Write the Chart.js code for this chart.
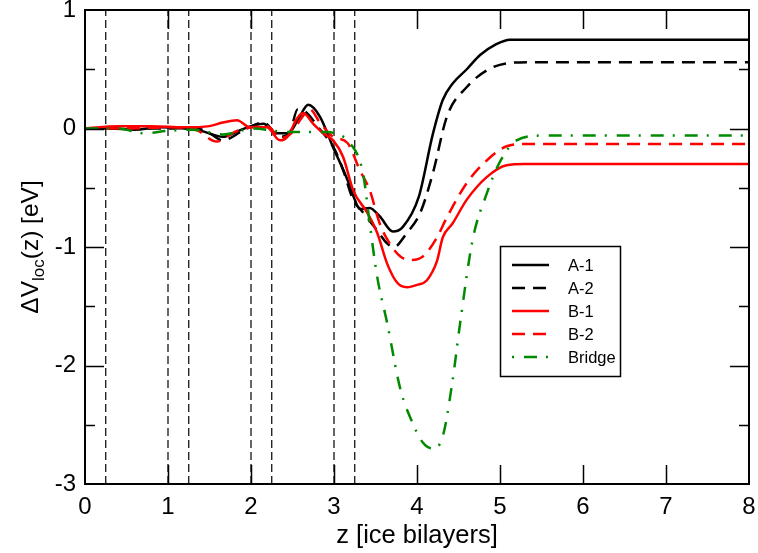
<!DOCTYPE html>
<html>
<head>
<meta charset="utf-8">
<script src="https://cdn.jsdelivr.net/npm/chart.js@4.4.1/dist/chart.umd.min.js"></script>
<style>
  html, body { margin: 0; padding: 0; background: #fff; }
  #pot { display: block; }
</style>
</head>
<body>
<canvas id="pot" width="758" height="553"></canvas>
<script>
// local potential change along z, one curve per adsorption structure
const zA1 = [0, 0.3, 0.6, 0.9, 1.2, 1.4, 1.66, 1.85, 2.0, 2.15, 2.3, 2.45, 2.57, 2.69, 2.83, 2.99, 3.16, 3.25, 3.31, 3.43, 3.55, 3.71, 3.83, 4.02, 4.19, 4.31, 4.43, 4.6, 4.76, 4.95, 5.12, 5.5, 8];
const vA1 = [0, 0, -0.01, 0.01, 0, -0.02, -0.07, -0.02, 0.02, 0.04, -0.04, -0.04, 0.08, 0.2, 0.1, -0.16, -0.43, -0.6, -0.68, -0.67, -0.74, -0.87, -0.83, -0.58, -0.05, 0.24, 0.38, 0.5, 0.62, 0.71, 0.75, 0.75, 0.75];

const zA2 = [0, 0.5, 1.0, 1.3, 1.5, 1.66, 1.9, 2.15, 2.35, 2.47, 2.56, 2.66, 2.8, 3.01, 3.11, 3.23, 3.34, 3.52, 3.64, 3.72, 3.88, 4.04, 4.19, 4.36, 4.6, 4.84, 5.08, 5.4, 8];
const vA2 = [0, 0, 0, 0.01, -0.04, -0.1, -0.02, 0.05, -0.07, -0.03, 0.16, 0.14, 0.02, -0.18, -0.35, -0.6, -0.7, -0.86, -0.97, -1.0, -0.88, -0.71, -0.38, 0.1, 0.35, 0.49, 0.55, 0.56, 0.56];

const zB1 = [0, 0.4, 0.8, 1.2, 1.5, 1.66, 1.83, 1.99, 2.19, 2.35, 2.45, 2.55, 2.63, 2.75, 2.87, 2.99, 3.11, 3.23, 3.4, 3.52, 3.64, 3.76, 3.88, 4.0, 4.12, 4.24, 4.31, 4.43, 4.6, 4.84, 5.08, 5.3, 8];
const vB1 = [0, 0.02, 0.02, 0.01, 0.02, 0.05, 0.07, 0.01, 0.01, -0.1, -0.06, 0.08, 0.13, 0.04, -0.04, -0.1, -0.24, -0.52, -0.71, -0.88, -1.14, -1.3, -1.34, -1.32, -1.28, -1.12, -0.92, -0.8, -0.6, -0.41, -0.31, -0.3, -0.3];

const zB2 = [0, 0.5, 1.0, 1.3, 1.59, 1.8, 2.0, 2.2, 2.35, 2.5, 2.6, 2.71, 2.83, 2.99, 3.16, 3.31, 3.43, 3.55, 3.67, 3.8, 3.92, 4.07, 4.24, 4.36, 4.6, 4.84, 5.08, 5.3, 8];
const vB2 = [0, 0, 0.01, 0, -0.11, -0.03, 0.01, 0.02, -0.08, -0.03, 0.08, 0.16, 0.05, -0.07, -0.12, -0.35, -0.52, -0.8, -0.97, -1.08, -1.11, -1.08, -0.92, -0.75, -0.46, -0.27, -0.15, -0.13, -0.13];

const zBr = [0, 0.4, 0.7, 1.0, 1.3, 1.66, 2.03, 2.43, 2.63, 2.91, 3.05, 3.19, 3.35, 3.43, 3.52, 3.64, 3.8, 3.95, 4.07, 4.19, 4.31, 4.43, 4.52, 4.67, 4.84, 5.0, 5.2, 5.5, 8];
const vBr = [0, 0, -0.04, -0.02, -0.01, -0.05, 0, -0.03, -0.03, -0.03, -0.05, -0.12, -0.38, -0.8, -1.25, -1.64, -2.2, -2.49, -2.65, -2.7, -2.6, -2.12, -1.64, -0.94, -0.55, -0.28, -0.1, -0.06, -0.06];

// bilayer boundaries (vertical dashed guides)
const layerEdges = [0.25, 1, 1.25, 2, 2.25, 3, 3.25];

const xTicks = [0, 1, 2, 3, 4, 5, 6, 7, 8];
const yTicks = [-3, -2, -1, 0, 1];
const yMinor = [-2.5, -1.5, -0.5, 0.5];

const pts = (z, v) => z.map((x, i) => ({ x: x, y: v[i] }));

const GREEN = '#008a00';

function curve(label, z, v, color, dash, order) {
  return {
    label: label,
    data: pts(z, v),
    borderColor: color,
    borderWidth: 2.5,
    borderDash: dash,
    pointRadius: 0,
    fill: false,
    cubicInterpolationMode: 'monotone',
    order: order
  };
}

const curves = [
  curve('A-1', zA1, vA1, '#000', [], 5),
  curve('A-2', zA2, vA2, '#000', [13, 8], 4),
  curve('B-1', zB1, vB1, '#ff0000', [], 3),
  curve('B-2', zB2, vB2, '#ff0000', [13, 8], 2),
  curve('Bridge', zBr, vBr, GREEN, [13, 9, 2, 10], 1)
];

const guides = layerEdges.map(e => ({
  label: '',
  data: [{ x: e, y: -3 }, { x: e, y: 1 }],
  borderColor: '#000',
  borderWidth: 1.2,
  borderDash: [8, 4],
  pointRadius: 0,
  order: 10
}));

// frame, inward ticks, axis titles and the boxed legend
const decor = {
  id: 'decor',
  afterDatasetsDraw(chart) {
    const { ctx, chartArea: a, scales: { x, y } } = chart;
    ctx.save();
    ctx.strokeStyle = '#000';
    ctx.lineWidth = 1.5;
    ctx.setLineDash([]);
    ctx.beginPath();
    xTicks.slice(1, -1).forEach(t => {
      const px = Math.round(x.getPixelForValue(t)) + 0.5;
      ctx.moveTo(px, a.bottom); ctx.lineTo(px, a.bottom - 19);
      ctx.moveTo(px, a.top); ctx.lineTo(px, a.top + 19);
    });
    yTicks.slice(1, -1).forEach(t => {
      const py = Math.round(y.getPixelForValue(t)) + 0.5;
      ctx.moveTo(a.left, py); ctx.lineTo(a.left + 19, py);
      ctx.moveTo(a.right, py); ctx.lineTo(a.right - 19, py);
    });
    yMinor.forEach(t => {
      const py = Math.round(y.getPixelForValue(t)) + 0.5;
      ctx.moveTo(a.left, py); ctx.lineTo(a.left + 10, py);
      ctx.moveTo(a.right, py); ctx.lineTo(a.right - 10, py);
    });
    ctx.stroke();

    ctx.lineWidth = 2;
    ctx.strokeRect(a.left, a.top, a.right - a.left, a.bottom - a.top);

    // legend
    const lx = 500.5, ly = 246.5;
    ctx.fillStyle = '#fff';
    ctx.fillRect(lx, ly, 120, 130);
    ctx.lineWidth = 1.5;
    ctx.strokeRect(lx, ly, 120, 130);
    ctx.font = '16.5px "Liberation Sans", Arial, sans-serif';
    ctx.textBaseline = 'middle';
    ctx.textAlign = 'left';
    curves.forEach((ds, i) => {
      const yy = 265 + i * 23;
      ctx.strokeStyle = ds.borderColor;
      ctx.lineWidth = 2.5;
      ctx.setLineDash(ds.borderDash);
      ctx.lineDashOffset = ds.borderDash.length === 4 ? 22 : 0;
      ctx.beginPath();
      ctx.moveTo(512, yy);
      ctx.lineTo(549, yy);
      ctx.stroke();
      ctx.fillStyle = '#000';
      ctx.fillText(ds.label, 568, yy + 1);
    });
    ctx.setLineDash([]);
    ctx.lineDashOffset = 0;

    // x title
    ctx.fillStyle = '#000';
    ctx.textAlign = 'center';
    ctx.textBaseline = 'alphabetic';
    ctx.font = '25.5px "Liberation Sans", Arial, sans-serif';
    ctx.fillText('z [ice bilayers]', (a.left + a.right) / 2, 543);

    // y title with subscript
    const big = '24.5px "Liberation Sans", Arial, sans-serif';
    const small = '17px "Liberation Sans", Arial, sans-serif';
    const parts = [['ΔV', big, 0], ['loc', small, 6], ['(z) [eV]', big, 0]];
    let total = 0;
    parts.forEach(p => { ctx.font = p[1]; total += ctx.measureText(p[0]).width; });
    ctx.translate(38, (a.top + a.bottom) / 2);
    ctx.rotate(-Math.PI / 2);
    ctx.textAlign = 'left';
    let cx = -total / 2;
    parts.forEach(p => {
      ctx.font = p[1];
      ctx.fillText(p[0], cx, p[2]);
      cx += ctx.measureText(p[0]).width;
    });
    ctx.restore();
  }
};

const tickFont = { family: '"Liberation Sans", Arial, sans-serif', size: 24 };

new Chart(document.getElementById('pot'), {
  type: 'line',
  data: { datasets: [...guides, ...curves] },
  options: {
    responsive: false,
    devicePixelRatio: 1,
    animation: false,
    layout: { padding: { left: 0, right: 9, top: 10, bottom: 0 } },
    plugins: { legend: { display: false }, tooltip: { enabled: false } },
    scales: {
      x: {
        type: 'linear',
        min: 0, max: 8,
        grid: { display: false, drawTicks: false },
        border: { display: false },
        ticks: { stepSize: 1, color: '#000', font: tickFont, padding: 9, maxRotation: 0 },
        afterFit(s) { s.height = 69; s.paddingLeft = 0; s.paddingRight = 0; }
      },
      y: {
        type: 'linear',
        min: -3, max: 1,
        grid: { display: false, drawTicks: false },
        border: { display: false },
        ticks: { stepSize: 1, color: '#000', font: tickFont, padding: 9 },
        afterFit(s) { s.width = 85; s.paddingTop = 0; s.paddingBottom = 0; }
      }
    }
  },
  plugins: [decor]
});
</script>
</body>
</html>
